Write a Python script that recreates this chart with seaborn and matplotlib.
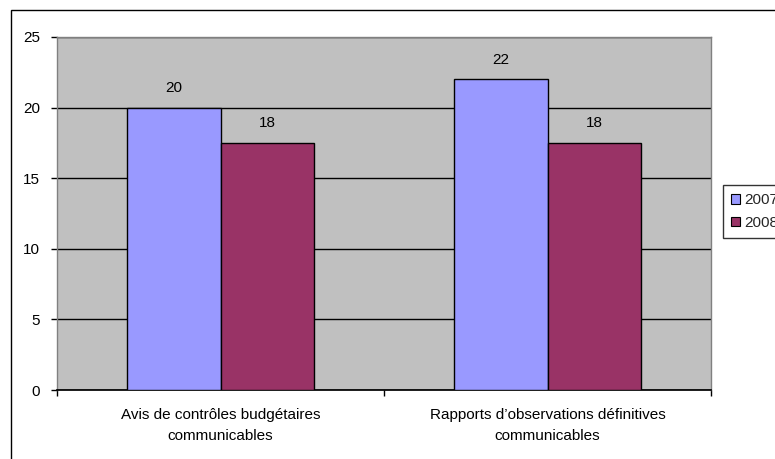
import matplotlib
matplotlib.use("Agg")
import matplotlib.pyplot as plt
from matplotlib.patches import Rectangle, Patch
import pandas as pd
import seaborn as sns

categories = ["Avis de contrôles budgétaires\ncommunicables",
              "Rapports d\u2019observations définitives\ncommunicables"]
years = ["2007", "2008"]
values_2007 = [20, 22]
values_2008 = [17.5, 17.5]
colors = ["#9999FF", "#993366"]

df = pd.DataFrame({
    "cat": categories * 2,
    "year": [years[0]] * 2 + [years[1]] * 2,
    "value": values_2007 + values_2008,
})

sns.set_theme(style="white")
plt.rcParams["font.family"] = ["Liberation Sans", "DejaVu Sans"]
fs = 11

fig = plt.figure(figsize=(7.75, 4.59), dpi=100)
ax = fig.add_axes([57 / 775, 1 - 390 / 459, 654 / 775, 353 / 459])
ax.set_facecolor("#C0C0C0")

sns.barplot(data=df, x="cat", y="value", hue="year", palette=colors,
            saturation=1, width=0.572, gap=0, edgecolor="black", linewidth=1,
            legend=False, ax=ax, zorder=3)

for c in ax.containers:
    ax.bar_label(c, fmt="%.0f", padding=9, fontsize=fs, color="black")

ax.set_ylim(0, 25)
ax.set_xlim(-0.5, 1.5)
ax.set_yticks([0, 5, 10, 15, 20, 25])
ax.set_yticklabels(["0", "5", "10", "15", "20", "25"], fontsize=fs)
ax.yaxis.grid(True, color="black", linewidth=1, zorder=1)
ax.set_axisbelow(True)
ax.set_xticks([-0.5, 0.5, 1.5], minor=True)
for t in ax.get_xticklabels():
    t.set_linespacing(1.6)
ax.tick_params(axis="x", which="major", length=0, pad=13, labelsize=fs,
               labelcolor="black")
ax.tick_params(axis="x", which="minor", length=4, width=1, color="black",
               direction="out", bottom=True)
ax.tick_params(axis="y", length=4, width=1, color="black", direction="out",
               left=True, pad=8, labelcolor="black")
ax.set_xlabel("")
ax.set_ylabel("")
for s in ["top", "right", "left"]:
    ax.spines[s].set_color("#808080")
    ax.spines[s].set_linewidth(1)
ax.spines["bottom"].set_color("black")

handles = [Patch(facecolor=colors[i], edgecolor="black", linewidth=0.8, label=years[i])
           for i in range(2)]
fig.legend(handles=handles, loc="upper left",
           bbox_to_anchor=(723 / 775, 1 - 185 / 459), frameon=True,
           fancybox=False, edgecolor="black", fontsize=fs,
           handlelength=0.55, handleheight=0.55, handletextpad=0.3,
           borderpad=0.55, labelspacing=0.55, borderaxespad=0)

fig.patches.append(Rectangle((11 / 775, -0.05), 1.0, 1 - 10 / 459 + 0.05,
                             transform=fig.transFigure, fill=False,
                             edgecolor="black", linewidth=1))

fig.savefig("out.png", dpi=100)
